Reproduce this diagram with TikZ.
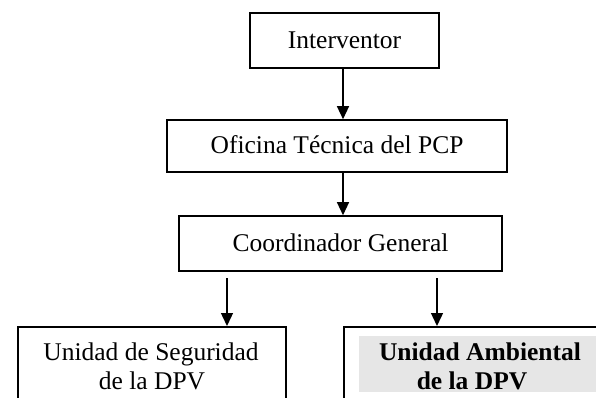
\documentclass[tikz,border=0pt]{standalone}
\usepackage{fontspec}
\setmainfont{Liberation Serif}
\usetikzlibrary{arrows.meta}
\definecolor{shadegray}{RGB}{230,230,230}
\begin{document}
\begin{tikzpicture}[x=1pt,y=-1pt,
  box/.style={draw=black, line width=1.6pt, rectangle, inner sep=0pt,
    text height=18pt, text depth=2.6pt},
  lbl/.style={anchor=base, inner sep=0pt},
  arr/.style={line width=1.4pt, -{Triangle[length=13pt,width=12pt]}},
  every node/.append style={font=\fontsize{25.5}{30}\selectfont}]
\useasboundingbox (0,0) rectangle (596,398);
% top boxes
\node[box, minimum width=189pt, minimum height=55pt] (int) at (344.5,40.5) {Interventor};
\node[box, minimum width=340pt, minimum height=52pt] (ofi) at (337,146) {Oficina Técnica del PCP};
\node[box, minimum width=323pt, minimum height=55pt] (coo) at (340.5,243.5) {Coordinador General};
% bottom boxes (cut by the page edge)
\node[box, minimum width=268pt, minimum height=100pt, anchor=north west] (seg) at (17,326) {};
\node[box, minimum width=280pt, minimum height=100pt, anchor=north west] (amb) at (343,326) {};
\node[fill=shadegray, inner sep=0pt, minimum width=245pt, minimum height=56pt, anchor=north west] (shd) at (359,336) {};
\node[lbl] (seg1) at (151,360) {Unidad de Seguridad};
\node[lbl] (seg2) at (152,389) {de la DPV};
\node[lbl] (amb1) at (480,360) {\bfseries Unidad Ambiental};
\node[lbl] (amb2) at (472,389) {\bfseries de la DPV};
% connectors
\coordinate (c1) at (227,278);
\coordinate (c2) at (437,278);
\draw[arr] (int.south -| 343,0) -- (ofi.north -| 343,0);
\draw[arr] (ofi.south -| 343,0) -- (coo.north -| 343,0);
\draw[arr] (c1) -- (seg.north -| c1);
\draw[arr] (c2) -- (amb.north -| c2);
\end{tikzpicture}
\end{document}
